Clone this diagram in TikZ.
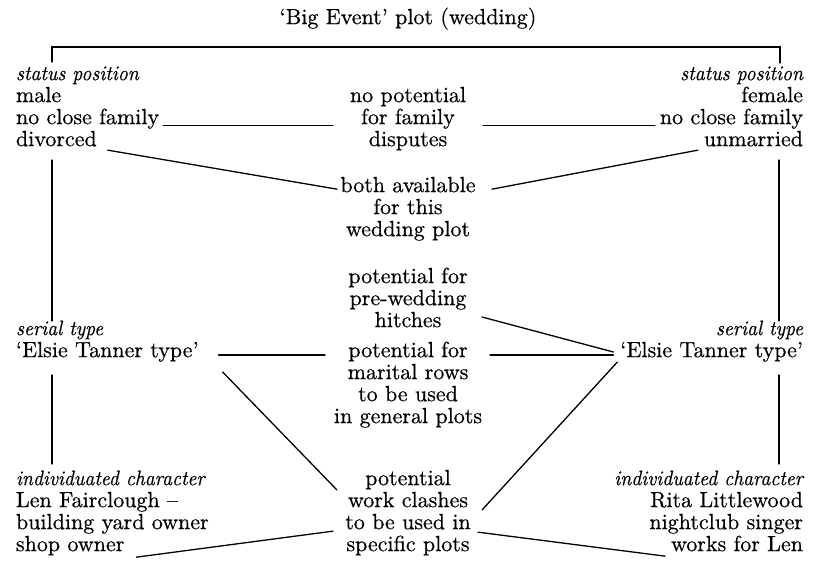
\documentclass[tikz,border=0pt]{standalone}
\usepackage{fontspec}
\setmainfont{lmroman10-regular.otf}[FakeBold=0.5]
\newfontfamily\labfont{lmroman10-italic.otf}[FakeStretch=0.93, FakeBold=0.4]
\tikzset{
  txt/.style={font=\fontsize{22}{22}\selectfont, inner sep=0pt, outer sep=0pt},
  lab/.style={font=\labfont\fontsize{21}{22}\selectfont, inner sep=0pt, outer sep=0pt},
  lft/.style={anchor=mid west},
  rgt/.style={anchor=mid east},
  ctr/.style={anchor=mid, minimum width=150pt},
  conn/.style={line width=1.3pt, line cap=round},
}
\begin{document}
\begin{tikzpicture}[x=1pt,y=-1pt]
\useasboundingbox (0,0) rectangle (816,567);
% title
\node[txt,ctr] (title) at (408,22) {‘Big Event’ plot (wedding)};
% left column
\node[lab,lft] (ls0) at (16,78) {status position};
\node[txt,lft] (ls1) at (16,100) {male};
\node[txt,lft] (ls2) at (16,122) {no close family};
\node[txt,lft] (ls3) at (16,144) {divorced};
\node[lab,lft] (lt0) at (16,333) {serial type};
\node[txt,lft] (lt1) at (16,355) {‘Elsie Tanner type’};
\node[lab,lft] (lc0) at (16,483) {individuated character};
\node[txt,lft] (lc1) at (16,505) {Len Fairclough –};
\node[txt,lft] (lc2) at (16,527) {building yard owner};
\node[txt,lft] (lc3) at (16,549) {shop owner};
% right column
\node[lab,rgt] (rs0) at (803,78) {status position};
\node[txt,rgt] (rs1) at (803,100) {female};
\node[txt,rgt] (rs2) at (803,122) {no close family};
\node[txt,rgt] (rs3) at (803,144) {unmarried};
\node[lab,rgt] (rt0) at (803,333) {serial type};
\node[txt,rgt] (rt1) at (803,355) {‘Elsie Tanner type’};
\node[lab,rgt] (rc0) at (803,483) {individuated character};
\node[txt,rgt] (rc1) at (803,505) {Rita Littlewood};
\node[txt,rgt] (rc2) at (803,527) {nightclub singer};
\node[txt,rgt] (rc3) at (803,549) {works for Len};
% centre column
\node[txt,ctr] (a1) at (408,100) {no potential};
\node[txt,ctr] (a2) at (408,122) {for family};
\node[txt,ctr] (a3) at (408,144) {disputes};
\node[txt,ctr] (b1) at (408,190) {both available};
\node[txt,ctr] (b2) at (408,212) {for this};
\node[txt,ctr] (b3) at (408,234) {wedding plot};
\node[txt,ctr] (h1) at (408,281) {potential for};
\node[txt,ctr] (h2) at (408,303) {pre-wedding};
\node[txt,ctr] (h3) at (408,325) {hitches};
\node[txt,ctr] (m1) at (408,355) {potential for};
\node[txt,ctr] (m2) at (408,377) {marital rows};
\node[txt,ctr] (m3) at (408,399) {to be used};
\node[txt,ctr] (m4) at (408,421) {in general plots};
\node[txt,ctr] (w1) at (408,483) {potential};
\node[txt,ctr] (w2) at (408,505) {work clashes};
\node[txt,ctr] (w3) at (408,527) {to be used in};
\node[txt,ctr] (w4) at (408,549) {specific plots};
% bracket and vertical lines
\coordinate (tl) at (52,62);
\coordinate (bl) at (52,47);
\coordinate (br) at (780,47);
\coordinate (tr) at (780,63);
\draw[conn] (tl) -- (bl) -- (br) -- (tr);
\coordinate (lv1) at (52,160);
\coordinate (lv2) at (52,321);
\coordinate (lv3) at (52,375);
\coordinate (lv4) at (52,464);
\coordinate (rv1) at (779,160);
\coordinate (rv2) at (779,321);
\coordinate (rv3) at (779,375);
\coordinate (rv4) at (779,464);
\draw[conn] (lv1) -- (lv2);
\draw[conn] (lv3) -- (lv4);
\draw[conn] (rv1) -- (rv2);
\draw[conn] (rv3) -- (rv4);
% connectors
\draw[conn] ([shift={(4pt,-1pt)}]ls2.base east) -- ([yshift=-1pt]a2.base west);
\draw[conn] ([yshift=-1pt]a2.base east) -- ([shift={(-5pt,-1pt)}]rs2.base west);
\draw[conn] ([shift={(11pt,-4pt)}]ls3.base east) -- ([shift={(4pt,3pt)}]b1.base west);
\draw[conn] ([shift={(-6pt,-4pt)}]rs3.base west) -- ([shift={(9pt,3pt)}]b1.base east);
\draw[conn] ([xshift=20pt]lt1.mid east) -- ([xshift=-8pt]m1.mid west);
\draw[conn] ([xshift=7pt]m1.mid east) -- ([xshift=-7pt]rt1.mid west);
\draw[conn] ([shift={(-1pt,-14pt)}]h2.mid east) -- ([shift={(-7pt,3pt)}]rt1.mid west);
\draw[conn] ([shift={(24pt,-17pt)}]lt1.mid east) -- ([shift={(4pt,15pt)}]w2.mid west);
\draw[conn] ([shift={(-1pt,-5pt)}]w2.mid east) -- ([shift={(-3pt,-7pt)}]rt1.mid west);
\draw[conn] ([shift={(12pt,-6pt)}]lc3.base east) -- ([shift={(0pt,-2pt)}]w3.base west);
\draw[conn] ([shift={(-5pt,-3pt)}]w3.base east) -- ([shift={(-6pt,-5pt)}]rc3.base west);
\end{tikzpicture}
\end{document}
